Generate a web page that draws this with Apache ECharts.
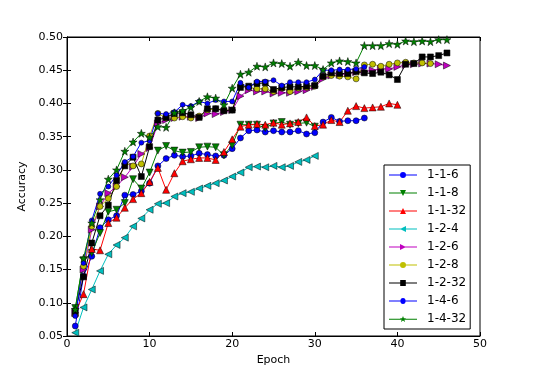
<!DOCTYPE html>
<html>
<head>
<meta charset="utf-8">
<script src="https://cdn.jsdelivr.net/npm/echarts@6/dist/echarts.min.js"></script>
<style>
html, body { margin: 0; padding: 0; background: #fff; }
#chart { width: 533px; height: 374px; }
</style>
</head>
<body>
<div id="chart"></div>
<script>
// accuracy per epoch, epochs start at 1
var names = ['1-1-6', '1-1-8', '1-1-32', '1-2-4', '1-2-6', '1-2-8', '1-2-32', '1-4-6', '1-4-32'];

var acc116 = [0.065,0.14,0.17,0.213,0.225,0.231,0.262,0.263,0.268,0.28,0.306,0.317,0.322,0.32,0.321,0.325,0.323,0.321,0.322,0.332,
	0.348,0.359,0.36,0.357,0.359,0.357,0.357,0.359,0.354,0.356,0.372,0.379,0.373,0.374,0.374,0.378];
var acc118 = [0.092,0.164,0.175,0.205,0.237,0.24,0.25,0.286,0.272,0.296,0.329,0.336,0.329,0.326,0.327,0.334,0.335,0.334,0.322,0.337,
	0.368,0.368,0.368,0.363,0.37,0.372,0.368,0.37,0.371,0.365];
var acc1132 = [0.085,0.113,0.181,0.179,0.22,0.228,0.243,0.256,0.265,0.282,0.303,0.27,0.295,0.313,0.316,0.318,0.318,0.315,0.327,0.346,
	0.365,0.368,0.369,0.368,0.371,0.368,0.37,0.372,0.379,0.366,0.368,0.375,0.372,0.389,0.396,0.393,0.394,0.395,0.4,0.398];
var acc124 = [0.055,0.093,0.12,0.148,0.173,0.187,0.198,0.215,0.227,0.24,0.249,0.25,0.26,0.265,0.267,0.272,0.276,0.28,0.284,0.29,
	0.296,0.304,0.305,0.304,0.306,0.304,0.306,0.312,0.315,0.321];
var acc126 = [0.085,0.15,0.21,0.245,0.265,0.275,0.289,0.305,0.324,0.333,0.37,0.375,0.378,0.38,0.38,0.378,0.385,0.384,0.387,0.39,
	0.411,0.42,0.418,0.418,0.415,0.416,0.416,0.418,0.42,0.425,0.437,0.442,0.443,0.445,0.447,0.448,0.45,0.452,0.452,0.455,
	0.458,0.459,0.46,0.46,0.459,0.457];
var acc128 = [0.082,0.155,0.215,0.245,0.257,0.275,0.31,0.306,0.309,0.351,0.385,0.378,0.378,0.38,0.378,0.381,0.39,0.392,0.39,0.39,
	0.427,0.424,0.422,0.422,0.418,0.423,0.418,0.423,0.424,0.426,0.44,0.442,0.441,0.44,0.437,0.458,0.459,0.456,0.459,0.461,
	0.462,0.461,0.461,0.46];
var acc1232 = [0.087,0.139,0.19,0.231,0.247,0.284,0.306,0.319,0.29,0.335,0.375,0.379,0.385,0.386,0.383,0.379,0.392,0.392,0.389,0.39,
	0.424,0.426,0.43,0.431,0.421,0.424,0.425,0.425,0.426,0.427,0.441,0.446,0.445,0.445,0.448,0.446,0.445,0.447,0.443,0.436,
	0.459,0.46,0.47,0.47,0.472,0.476];
var acc146 = [0.08,0.16,0.224,0.264,0.275,0.292,0.312,0.32,0.341,0.344,0.385,0.384,0.387,0.398,0.396,0.403,0.4,0.405,0.403,0.403,
	0.431,0.424,0.433,0.433,0.435,0.427,0.432,0.432,0.432,0.436,0.45,0.45,0.451,0.451,0.452,0.455];
var acc1432 = [0.09,0.167,0.22,0.255,0.286,0.3,0.328,0.342,0.355,0.349,0.365,0.364,0.386,0.389,0.394,0.403,0.41,0.408,0.398,0.423,
	0.444,0.447,0.456,0.455,0.461,0.46,0.456,0.462,0.457,0.457,0.451,0.461,0.464,0.463,0.461,0.487,0.487,0.487,0.49,0.489,
	0.494,0.493,0.494,0.493,0.496,0.496];

var xTicks = [0, 10, 20, 30, 40, 50];

var starPath = 'path://M0,-10L2.35,-3.24L9.51,-3.09L3.8,1.24L5.88,8.09L0,4L-5.88,8.09L-3.8,1.24L-9.51,-3.09L-2.35,-3.24Z';

// legend icons: line + small marker in a 28x6 box
var lg = 'M0,2.6L28,2.6L28,3.4L0,3.4Z';
var legendIcons = [
	'path://' + lg + 'M17,3A3,3 0 1,1 11,3A3,3 0 1,1 17,3Z',
	'path://' + lg + 'M11,0L17,0L14,6Z',
	'path://' + lg + 'M14,0L17,6L11,6Z',
	'path://' + lg + 'M11,3L17,0L17,6Z',
	'path://' + lg + 'M11,0L17,3L11,6Z',
	'path://' + lg + 'M17,3A3,3 0 1,1 11,3A3,3 0 1,1 17,3Z',
	'path://' + lg + 'M11.2,0.2L16.8,0.2L16.8,5.8L11.2,5.8Z',
	'path://' + lg + 'M16.6,3A2.6,2.6 0 1,1 11.4,3A2.6,2.6 0 1,1 16.6,3Z',
	'path://' + lg + 'M14,0L14.9,2L17,2.1L15.4,3.4L16,5.6L14,4.3L12,5.6L12.6,3.4L11,2.1L13.1,2Z'
];

var styles = [
	{c: '#0000ff', s: 'circle', z: 6, r: 0},
	{c: '#008000', s: 'triangle', z: 7, r: 180},
	{c: '#ff0000', s: 'triangle', z: 7, r: 0},
	{c: '#00bfbf', s: 'triangle', z: 7, r: 90},
	{c: '#bf00bf', s: 'triangle', z: 7, r: -90},
	{c: '#bfbf00', s: 'circle', z: 6, r: 0},
	{c: '#000000', s: 'rect', z: 6, r: 0},
	{c: '#0000ff', s: 'circle', z: 5, r: 0},
	{c: '#008000', s: starPath, z: 8, r: 0}
];
var allData = [acc116, acc118, acc1132, acc124, acc126, acc128, acc1232, acc146, acc1432];

function pairs(arr){
	return arr.map(function(v, i){ return [i + 1, v]; });
}

var series = names.map(function(n, i){
	var st = styles[i];
	return {
		name: n,
		type: 'line',
		data: pairs(allData[i]),
		symbol: st.s,
		symbolSize: st.z,
		symbolRotate: st.r,
		showAllSymbol: true,
		animation: false,
		lineStyle: {color: st.c, width: 1},
		itemStyle: {color: st.c, borderColor: '#000', borderWidth: 0.5}
	};
});

var font = 'DejaVu Sans';
var e = echarts.init(document.getElementById('chart'));
var u = {
	animation: false,
	textStyle: {fontFamily: font},
	grid: {left: 67, right: 53, top: 37, bottom: 38, show: true, borderColor: '#000', borderWidth: 1},
	legend: {
		data: names.map(function(n, i){ return {name: n, icon: legendIcons[i]}; }),
		orient: 'vertical',
		left: 384,
		top: 165,
		width: 95,
		padding: [4, 4, 4, 5],
		itemWidth: 28,
		itemHeight: 6,
		itemGap: 6,
		symbolKeepAspect: false,
		itemStyle: {borderWidth: 0},
		backgroundColor: '#fff',
		borderColor: '#000',
		borderWidth: 1,
		textStyle: {fontFamily: font, fontSize: 12, color: '#000', padding: [0, 0, 0, 5]}
	},
	xAxis: [{
		type: 'value', min: 0, max: 50, interval: 10,
		name: 'Epoch', nameLocation: 'middle', nameGap: 17,
		nameTextStyle: {fontFamily: font, fontSize: 11, color: '#000'},
		axisLine: {lineStyle: {color: '#000'}},
		axisTick: {inside: true, length: 4, lineStyle: {color: '#000'}},
		axisLabel: {margin: 3, fontFamily: font, fontSize: 11, color: '#000',
			formatter: function(v){ return xTicks.indexOf(v) >= 0 ? String(v) : ''; }},
		splitLine: {show: false}
	}, {
		type: 'value', min: 0, max: 50, interval: 10, position: 'top',
		axisLine: {lineStyle: {color: '#000'}},
		axisTick: {inside: true, length: 4, lineStyle: {color: '#000'}},
		axisLabel: {show: false}, splitLine: {show: false}
	}],
	yAxis: [{
		type: 'value', min: 0.05, max: 0.5, interval: 0.05,
		name: 'Accuracy', nameLocation: 'middle', nameGap: 26,
		nameTextStyle: {fontFamily: font, fontSize: 11, color: '#000'},
		axisLine: {show: true, lineStyle: {color: '#000'}},
		axisTick: {show: true, inside: true, length: 4, lineStyle: {color: '#000'}},
		axisLabel: {margin: 4, fontFamily: font, fontSize: 11, color: '#000',
			formatter: function(v){ return v.toFixed(2); }},
		splitLine: {show: false}
	}, {
		type: 'value', min: 0.05, max: 0.5, interval: 0.05, position: 'right',
		axisLine: {show: true, lineStyle: {color: '#000'}},
		axisTick: {show: true, inside: true, length: 4, lineStyle: {color: '#000'}},
		axisLabel: {show: false}, splitLine: {show: false}
	}],
	series: series
};
e.setOption(u);
</script>
</body>
</html>
